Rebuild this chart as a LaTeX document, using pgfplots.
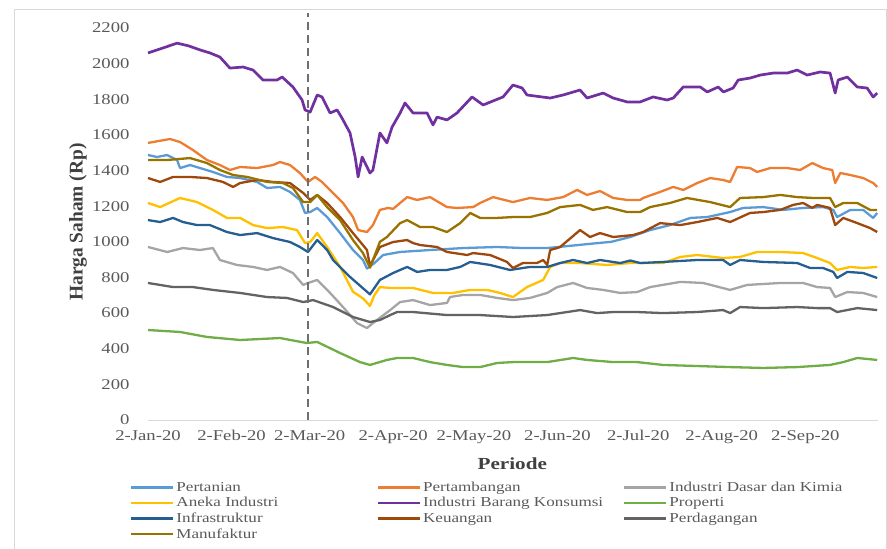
\documentclass[border=0pt]{standalone}
\usepackage{pgfplots}
\pgfplotsset{compat=1.18}
\usepackage{fontspec}
\setmainfont{Liberation Serif}
\newfontfamily\widefont[FakeStretch=1.25]{Liberation Serif}

\definecolor{cPertanian}{HTML}{5B9BD5}
\definecolor{cTambang}{HTML}{ED7D31}
\definecolor{cDasar}{HTML}{A5A5A5}
\definecolor{cAneka}{HTML}{FFC000}
\definecolor{cKonsumsi}{HTML}{7030A0}
\definecolor{cProperti}{HTML}{70AD47}
\definecolor{cInfra}{HTML}{255E91}
\definecolor{cUang}{HTML}{9E480E}
\definecolor{cDagang}{HTML}{636363}
\definecolor{cManuf}{HTML}{997300}
\definecolor{txtgray}{HTML}{595959}
\definecolor{lblgray}{HTML}{404040}
\definecolor{axgray}{HTML}{D9D9D9}
\definecolor{dashgray}{HTML}{6E6E6E}

\begin{document}
\begin{tikzpicture}
\path[use as bounding box] (0bp,0bp) rectangle (887bp,549bp);
\draw[axgray, line width=1bp] (14bp,-10bp) rectangle (886bp,539bp);
\begin{axis}[
  at={(148bp,129bp)}, anchor=south west,
  scale only axis, width=730bp, height=392bp,
  xmin=0, xmax=271, ymin=0, ymax=2200,
  axis lines*=left,
  axis line style={-},
  x axis line style={draw=axgray, line width=1bp},
  y axis line style={draw=none},
  major tick length=0pt,
  xtick={0,31,60,91,121,152,182,213,244},
  xticklabels={2-Jan-20,2-Feb-20,2-Mar-20,2-Apr-20,2-May-20,2-Jun-20,2-Jul-20,2-Aug-20,2-Sep-20},
  ytick={0,200,...,2200},
  /pgf/number format/assume math mode=true,
  /pgf/number format/1000 sep={},
  tick label style={font=\widefont\fontsize{15}{17}\selectfont, text=txtgray},
  xticklabel style={yshift=-7bp},
  yticklabel style={xshift=-15bp},
  xlabel={Periode}, ylabel={Harga Saham (Rp)},
  xlabel style={font=\widefont\fontsize{17}{20}\selectfont\bfseries, text=lblgray,
    at={(axis description cs:0.499,-0.112)}, anchor=center},
  ylabel style={font=\fontsize{19.5}{22}\selectfont\bfseries, text=lblgray,
    at={(axis description cs:-0.096,0.505)}, anchor=center},
  clip=false,
  every axis plot/.append style={line width=2.3bp, line join=round},
  legend columns=3,
  legend cell align=left,
  legend image code/.code={\draw[#1, line width=2.3bp] (0bp,0bp) -- (42bp,0bp);},
  legend style={at={(axis description cs:-0.0247,-0.1526)}, anchor=north west,
    draw=none, fill=none, inner xsep=0pt, inner ysep=0pt,
    font=\widefont\fontsize{13.7}{16}\selectfont, text=txtgray,
    row sep=0.5bp,
    /tikz/column 2/.style={column sep=96.5bp},
    /tikz/column 4/.style={column sep=18bp}},
]
% Pertanian
\addplot[cPertanian] coordinates {
(0,1487)(3.3,1476)(7.1,1487)(10.8,1459)(11.9,1414)(15.6,1431)(19.3,1414)(24.1,1392)(29.3,1364)(34.2,1358)
(40.5,1336)(44.2,1302)(49,1308)(52.7,1280)(56.4,1235)(58.3,1162)(60.2,1167)(62.8,1190)(66.5,1139)(71.3,1049)
(76.1,954)(79.8,898)(81.3,850)(84,880)(87.3,926)(93.6,943)(104.7,954)(117,965)(129.6,971)(139.2,965)(148.2,965)
(155,975)(165,990)(172,1000)(179,1027)(186.4,1066)(193.8,1094)(201.3,1134)(207.6,1139)(216.1,1167)(220.9,1190)
(228.4,1195)(235.8,1179)(243.2,1190)(250.6,1195)(254.4,1179)(255.8,1139)(260.7,1179)(265.5,1179)(269.2,1134)(270.7,1162)};
% Pertambangan
\addplot[cTambang] coordinates {
(0,1555)(8.2,1577)(11.9,1560)(16.7,1515)(21.9,1459)(26.7,1431)(30.4,1403)(34.2,1420)(40.5,1414)(46.4,1431)
(49,1448)(52.7,1431)(56.4,1386)(59.4,1336)(62,1364)(64.6,1336)(68.7,1274)(72.4,1218)(76.1,1139)(78,1066)
(81.3,1055)(83.5,1094)(86.1,1179)(89.1,1190)(91,1185)(96.2,1251)(99.9,1235)(104.7,1251)(111,1195)(114.7,1190)
(120.7,1195)(123.3,1218)(128.1,1251)(135.5,1223)(141.8,1246)(148.2,1235)(154.1,1251)(159.3,1291)(163,1263)
(167.8,1285)(172.7,1246)(177.9,1235)(182.7,1235)(183.8,1246)(190.1,1280)(195,1308)(198.7,1291)(203.9,1330)
(208.7,1358)(213.5,1347)(216.1,1336)(218.7,1420)(223.5,1414)(226.1,1392)(231,1414)(237.3,1414)(242.1,1403)
(246.6,1442)(250.6,1414)(254,1403)(255.1,1330)(257,1386)(260.7,1375)(265.5,1358)(269.2,1330)(270.7,1308)};
% Industri Dasar dan Kimia
\addplot[cDasar] coordinates {
(0,971)(7.1,943)(13,965)(19.3,954)(24.1,965)(26.7,898)(33,870)(39,859)(44.2,842)(49,859)(53.8,825)(57.6,758)
(59.4,769)(62.8,786)(67.6,713)(72.4,634)(77.6,544)(81.3,516)(83.5,544)(89.9,617)(93.6,662)(98.4,673)(104.7,645)
(111,657)(112.1,690)(117,702)(123.3,702)(129.6,685)(135.5,673)(141.8,685)(148.2,713)(151.9,746)(157.8,769)
(163,741)(169,730)(175.3,713)(181.6,718)(186.4,746)(197.6,775)(206.1,769)(216.1,730)(222.4,758)(234.7,769)
(243.2,769)(248.4,746)(253.2,741)(255.1,690)(259.6,718)(265.5,713)(270.7,690)};
% Aneka Industri
\addplot[cAneka] coordinates {
(0,1218)(4.5,1195)(11.9,1246)(18.2,1223)(24.1,1179)(29.3,1134)(34.2,1134)(39,1094)(44.2,1077)(50.1,1083)
(55.3,1066)(58.3,993)(60.2,999)(62.8,1049)(66.5,971)(71.3,860)(76.1,720)(80,680)(82.4,640)(84,700)(86.1,746)
(89.9,741)(98.4,741)(105.8,713)(113.3,713)(119.6,730)(125.9,730)(130.7,713)(135.5,690)(140.7,746)(146.7,786)
(149.3,859)(153,881)(160.4,881)(170.4,870)(179,881)(191.2,881)(197.6,915)(203.9,926)(213.5,909)(219.8,915)
(226.1,943)(234.7,943)(243.2,937)(248.4,909)(253.2,881)(255.8,842)(260.7,859)(265.5,853)(270.7,859)};
% Industri Barang Konsumsi
\addplot[cKonsumsi, line width=2.7bp] coordinates {
(0,2060)(5,2085)(10.8,2115)(15,2100)(19.3,2077)(23,2060)(26.7,2037)(30.4,1975)(35.3,1981)(39,1964)(42.7,1908)
(47.9,1908)(49.8,1925)(53.8,1869)(57.2,1796)(58.3,1740)(60.2,1728)(62.8,1824)(64.6,1813)(67.6,1723)(70.2,1740)
(72,1695)(75,1611)(76.9,1476)(78,1364)(79.5,1476)(82.4,1386)(83.5,1403)(86.1,1611)(88.7,1555)(90.6,1644)
(93.6,1723)(95.4,1779)(98.4,1723)(103.6,1723)(105.8,1656)(107.3,1700)(111,1684)(114.7,1723)(120.3,1813)
(124.4,1768)(131.8,1813)(135.5,1880)(138.9,1863)(140.7,1824)(149.3,1807)(154.1,1824)(160.4,1852)(163,1807)
(169,1835)(172.7,1807)(177.9,1785)(182.7,1785)(187.5,1813)(192.7,1796)(195,1807)(198.7,1869)(205,1869)
(207.6,1841)(211.7,1869)(213.6,1841)(217.2,1863)(219.1,1908)(223.5,1919)(227.3,1936)(232.1,1947)(237.3,1947)
(241,1964)(244.7,1936)(249.5,1953)(253.2,1947)(255.1,1835)(256.2,1908)(259.6,1925)(263.3,1869)(267,1863)
(269.2,1813)(270.7,1835)};
% Properti
\addplot[cProperti] coordinates {
(0,505)(11.9,494)(21.9,466)(34.2,449)(49,460)(58.9,432)(62.8,438)(71.3,376)(78.7,325)(82.4,309)(88.7,337)
(92.5,348)(98.4,348)(104.7,325)(111,309)(117,297)(123.3,297)(129.6,320)(135.5,325)(148.2,325)(157.8,348)
(163,337)(172.7,325)(181.6,325)(191.2,309)(216.1,297)(228.4,292)(241,297)(253.2,309)(258.1,325)(263.3,348)(270.7,337)};
% Infrastruktur
\addplot[cInfra] coordinates {
(0,1122)(4.5,1111)(9.3,1134)(13,1111)(18.2,1094)(23,1094)(29.3,1055)(34.2,1038)(40.5,1049)(46.4,1021)
(52.7,999)(56.4,971)(59.4,943)(62.8,1010)(66.5,954)(68.7,898)(75,803)(79,750)(82.4,705)(86.1,786)(91,825)
(96.2,859)(99.9,831)(104.7,842)(111,842)(115.9,859)(119.6,887)(127,870)(134.4,842)(141.8,859)(148.2,859)
(153,881)(157.8,898)(163,881)(167.8,898)(175.3,881)(179,895)(182.7,881)(191.2,887)(203.9,898)(213.5,898)
(216.1,870)(219.8,898)(228.4,887)(241,881)(245.8,853)(250.6,853)(254.4,831)(255.8,797)(259.6,831)(265.5,825)(270.7,797)};
% Keuangan
\addplot[cUang] coordinates {
(0,1358)(4.5,1336)(9.3,1364)(15.6,1364)(21.9,1358)(27.8,1336)(31.6,1308)(34.2,1330)(40.5,1347)(46.4,1336)
(52.7,1330)(57.6,1274)(60.2,1235)(62.8,1263)(66.5,1218)(71.3,1139)(76.1,1049)(81.3,954)(82.4,865)(86.1,971)
(91,999)(96.2,1010)(98.4,993)(101,982)(107.3,971)(111,943)(118.5,926)(120.7,937)(127,926)(133.3,887)(135.5,853)
(139.2,881)(144.4,881)(146.7,898)(148.2,870)(149.3,954)(151.9,965)(153,971)(160.4,1066)(164.1,1027)(167.8,1049)
(172.7,1027)(180.1,1038)(183.8,1055)(190.1,1105)(197.6,1094)(203.9,1111)(211.3,1134)(216.1,1111)(223.5,1162)
(228.4,1167)(234.7,1179)(239.5,1207)(243.2,1218)(246.6,1190)(248.4,1207)(253.2,1190)(255.1,1094)(258.1,1134)
(263.3,1105)(268.1,1077)(270.7,1055)};
% Perdagangan
\addplot[cDagang] coordinates {
(0,769)(9.3,746)(16.7,746)(24.1,730)(34.2,713)(44.2,690)(51.6,685)(57.6,662)(61.3,673)(68.7,634)(76.1,578)
(82.4,550)(86.1,561)(89.9,589)(92.5,606)(98.4,606)(111,589)(123.3,589)(135.5,578)(148.2,589)(160.4,617)
(166.7,600)(172.7,606)(181.6,606)(191.2,600)(203.9,606)(213.5,617)(216.1,600)(219.8,634)(228.4,628)(241,634)
(248.4,628)(253.2,628)(255.8,606)(263.3,628)(270.7,617)};
% Manufaktur
\addplot[cManuf] coordinates {
(0,1459)(7.1,1459)(15.6,1470)(21.9,1442)(26.7,1403)(31.6,1375)(36.8,1364)(44.2,1336)(50.1,1330)(53.8,1302)
(57.6,1223)(60.2,1223)(62.8,1263)(66.5,1195)(71.3,1122)(76.1,1010)(79.8,937)(82.4,855)(86.1,1000)(88.7,1027)
(93.6,1105)(96.2,1122)(101,1083)(105.8,1083)(111,1055)(115.9,1105)(119.6,1162)(123.3,1134)(129.6,1134)
(135.5,1139)(141.8,1139)(148.2,1162)(153,1195)(160.4,1207)(165.2,1179)(170.4,1195)(177.9,1167)(182.7,1167)
(186.4,1195)(193.8,1218)(200.1,1246)(208.7,1223)(216.1,1195)(219.8,1246)(228.4,1251)(234.7,1263)(241,1251)
(246.9,1246)(253.2,1246)(255.1,1195)(258.1,1218)(263.3,1218)(268.1,1179)(270.7,1179)};
\legend{Pertanian,Pertambangan,Industri Dasar dan Kimia,Aneka Industri,Industri Barang Konsumsi,Properti,Infrastruktur,Keuangan,Perdagangan,Manufaktur}
\draw[dashgray, line width=2bp, dash pattern=on 8bp off 5bp] (axis cs:59.5,0) -- (axis cs:59.5,2285);
\end{axis}
\end{tikzpicture}
\end{document}
